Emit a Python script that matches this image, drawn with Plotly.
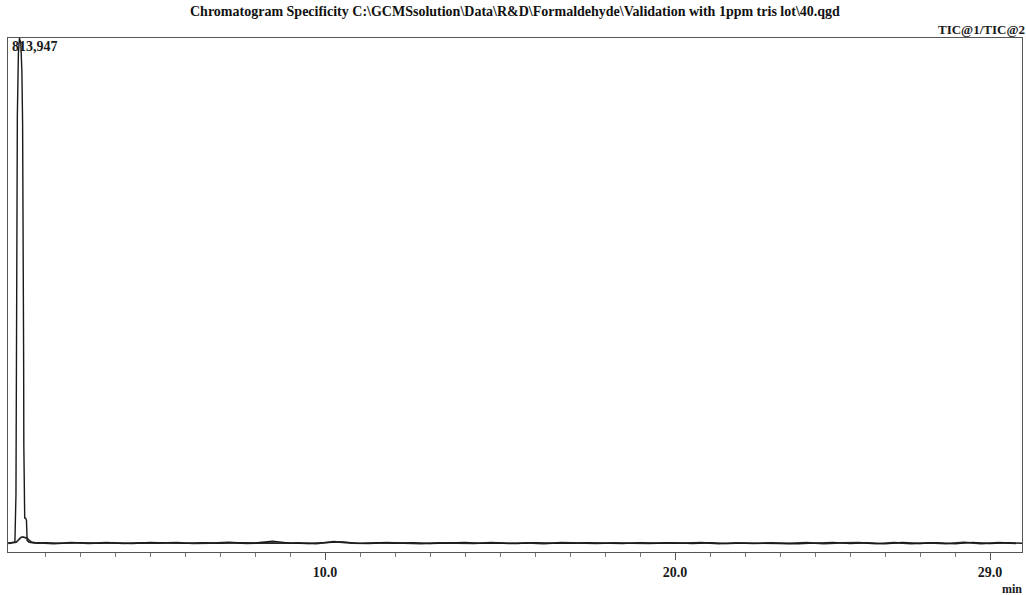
import plotly.graph_objects as go

# ---- data ----
title_text = "Chromatogram Specificity C:\\GCMSsolution\\Data\\R&D\\Formaldehyde\\Validation with 1ppm tris lot\\40.qgd"
max_label = "813,947"
trace_label = "TIC@1/TIC@2"

# TIC@1: solvent peak region (min, intensity)
peak_time = [0.95, 1.00, 1.05, 1.10, 1.14, 1.17, 1.19, 1.21, 1.24, 1.27, 1.31, 1.34, 1.36,
             1.375, 1.385, 1.39, 1.395, 1.40, 1.42, 1.45, 1.47, 1.49, 1.55, 1.65, 1.80]
peak_int = [14300, 14600, 14100, 14800, 15500, 90000, 420000, 690000, 790000, 813947, 805000,
            760000, 680000, 560000, 430000, 300000, 170000, 70000, 54000, 53500, 50000,
            18000, 15200, 14400, 13900]

# TIC@1 baseline after the peak
base1_time = [2.0, 2.5, 3.0, 3.5, 4.0, 4.5, 5.0, 5.5, 6.0, 6.5, 7.0, 7.5, 8.0, 8.5, 9.0, 9.5,
              10.0, 10.5, 11.0, 11.5, 12.0, 12.5, 13.0, 13.5, 14.0, 14.5, 15.0, 15.5, 16.0,
              16.5, 17.0, 17.5, 18.0, 18.5, 19.0, 19.5, 20.0, 20.5, 21.0, 21.5, 22.0, 22.5,
              23.0, 23.5, 24.0, 24.5, 25.0, 25.5, 26.0, 26.5, 27.0, 27.5, 28.0, 28.5, 29.0,
              29.5, 30.0]
base1_int = [14800, 13600, 14900, 13900, 14500, 13400, 15000, 14100, 13700, 14900, 13900, 14600,
             14200, 17000, 14000, 13500, 15200, 16000, 13600, 14700, 13800, 14900, 13500, 14400,
             15000, 13700, 14300, 13200, 14800, 13900, 13600, 14700, 14100, 13300, 14900, 13800,
             14400, 13500, 14600, 13200, 14100, 13800, 14500, 13100, 14000, 15200, 13300, 14700,
             13000, 15100, 13400, 14900, 12900, 15200, 13500, 14600, 13800]

# TIC@2: small hump after the peak, then baseline
hump_time = [0.95, 1.00, 1.06, 1.12, 1.18, 1.24, 1.30, 1.36, 1.42, 1.48, 1.55, 1.62, 1.70, 1.85]
hump_int = [13800, 14400, 13900, 14700, 15600, 19000, 22500, 24000, 23500, 22000, 18500,
            15500, 14800, 14200]

base2_time = [2.25, 2.75, 3.25, 3.75, 4.25, 4.75, 5.25, 5.75, 6.25, 6.75, 7.25, 7.75, 8.25,
              8.75, 9.25, 9.75, 10.25, 10.75, 11.25, 11.75, 12.25, 12.75, 13.25, 13.75, 14.25,
              14.75, 15.25, 15.75, 16.25, 16.75, 17.25, 17.75, 18.25, 18.75, 19.25, 19.75, 20.25,
              20.75, 21.25, 21.75, 22.25, 22.75, 23.25, 23.75, 24.25, 24.75, 25.25, 25.75, 26.25,
              26.75, 27.25, 27.75, 28.25, 28.75, 29.25, 29.75]
base2_int = [13300, 14700, 13800, 15000, 13600, 14400, 13900, 14800, 13500, 14200, 15100, 13700,
             14500, 13900, 14300, 13400, 16500, 14100, 13800, 14900, 14000, 13400, 14600, 13900,
             13500, 14700, 13800, 14400, 13300, 14900, 14200, 13700, 14500, 14000, 13500, 14300,
             13900, 14800, 13400, 14500, 13700, 14300, 13600, 14800, 13200, 14400, 14900, 13100,
             14800, 13300, 14600, 13200, 15100, 13400, 14800, 13600]

tick_major = [10.0, 20.0, 29.0]
tick_major_text = ["10.0", "20.0", "29.0"]
tick_minor = [2, 3, 4, 5, 6, 7, 8, 9, 11, 12, 13, 14, 15, 16, 17, 18, 19, 21, 22, 23, 24, 25,
              26, 27, 28]

x_range = [0.943, 29.914]
y_range = [0, 813947]

# ---- figure ----
FONT = "Liberation Serif"
fig = go.Figure()
fig.add_trace(go.Scatter(x=hump_time + base2_time, y=hump_int + base2_int, mode="lines",
                         line=dict(color="#2a2a2a", width=1.7), hoverinfo="skip",
                         showlegend=False))
fig.add_trace(go.Scatter(x=peak_time + base1_time, y=peak_int + base1_int, mode="lines",
                         line=dict(color="#1a1a1a", width=1.4), hoverinfo="skip",
                         showlegend=False))

fig.update_layout(
    width=1026, height=595,
    margin=dict(l=8, r=4, t=38, b=43),
    paper_bgcolor="white", plot_bgcolor="white",
    font=dict(family=FONT, color="#1a1a1a"),
    xaxis=dict(range=x_range, showgrid=False, zeroline=False,
               showline=True, linecolor="#555", linewidth=1, mirror=True,
               tickmode="array", tickvals=tick_major,
               ticktext=["<b>" + t + "</b>" for t in tick_major_text],
               ticks="outside", ticklen=7, tickcolor="#555", tickwidth=1,
               tickfont=dict(family=FONT, size=14, color="#1a1a1a"),
               minor=dict(tickmode="array", tickvals=tick_minor, ticks="outside",
                          ticklen=4, tickcolor="#777", tickwidth=1)),
    yaxis=dict(range=y_range, showgrid=False, zeroline=False, showticklabels=False,
               showline=True, linecolor="#555", linewidth=1, mirror=True, ticks=""),
    annotations=[
        dict(text="<b>" + title_text.replace("&", "&amp;") + "</b>", xref="paper", yref="paper",
             x=0.5, y=1.0, yshift=17,
             xanchor="center", yanchor="bottom", showarrow=False,
             font=dict(family=FONT, size=14, color="#111")),
        dict(text="<b>" + trace_label + "</b>", xref="paper", yref="paper", x=1.0, y=1.0,
             xshift=5, yshift=-1,
             xanchor="right", yanchor="bottom", showarrow=False,
             font=dict(family=FONT, size=13, color="#1a1a1a")),
        dict(text="<b>" + max_label + "</b>", xref="paper", yref="paper", x=0.0, y=1.0,
             xshift=2, yshift=1,
             xanchor="left", yanchor="top", showarrow=False,
             font=dict(family=FONT, size=14, color="#1a1a1a")),
        dict(text="<b>min</b>", xref="paper", yref="paper", x=1.0, y=0.0, xshift=2, yshift=-28,
             xanchor="right", yanchor="top", showarrow=False,
             font=dict(family=FONT, size=12, color="#1a1a1a")),
    ],
)

fig.write_html("out.html", config={"displayModeBar": False},
               post_script="document.body.style.margin='0';document.body.style.overflow='hidden';")
